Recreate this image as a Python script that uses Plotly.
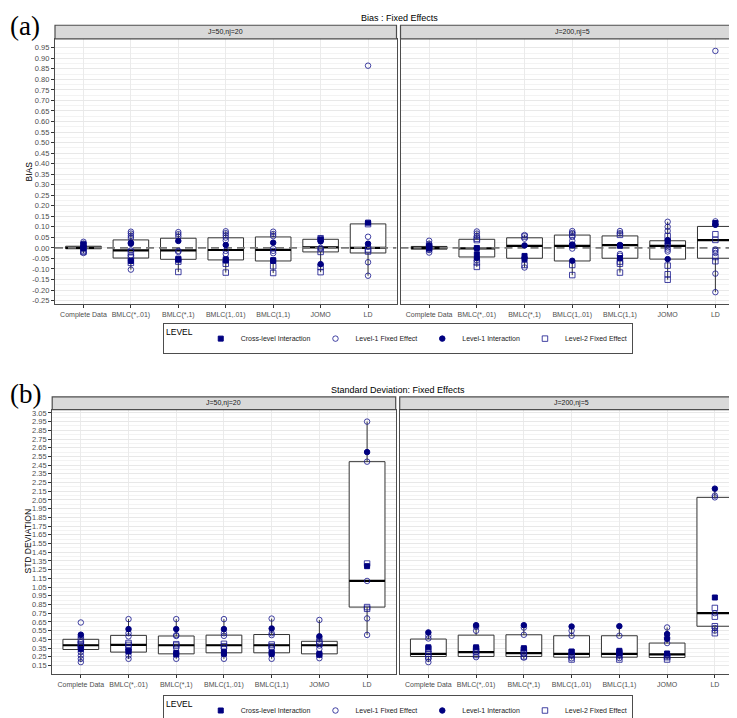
import plotly.graph_objects as go

# ---------------- data ----------------
CATEGORIES = ["Complete Data", "BMLC(*,.01)", "BMLC(*,1)", "BMLC(1,.01)", "BMLC(1,1)", "JOMO", "LD"]
LEVELS = ["Cross-level Interaction", "Level-1 Fixed Effect", "Level-1 Interaction", "Level-2 Fixed Effect"]
FACETS = ["J=50,nj=20", "J=200,nj=5"]

BIAS_TICKS = [round(-0.25 + 0.05 * i, 2) for i in range(25)]
SD_TICKS = [round(0.15 + 0.10 * i, 2) for i in range(30)]

# ---- Bias, J=50,nj=20 : box statistics (one per category)
BIAS_A_LOW = [-0.024, -0.103, -0.114, -0.117, -0.119, -0.115, -0.132]
BIAS_A_Q1 = [-0.004, -0.048, -0.054, -0.057, -0.062, -0.019, -0.024]
BIAS_A_MED = [0.000, -0.012, -0.012, -0.010, -0.009, 0.003, 0.000]
BIAS_A_Q3 = [0.008, 0.038, 0.046, 0.048, 0.052, 0.041, 0.114]
BIAS_A_HIGH = [0.029, 0.077, 0.075, 0.079, 0.077, 0.047, 0.122]
# points per level (one list per category)
BIAS_A_CLI = [[0.0, 0.017], [-0.062], [-0.051, -0.056], [-0.054, -0.06], [-0.058, -0.061], [0.04], [0.12]]
BIAS_A_L1FE = [[0.029, 0.021, -0.005, -0.024], [0.077, 0.068, 0.057, 0.047, -0.012, -0.035, -0.103],
               [0.075, 0.065, 0.054, -0.014, -0.019], [0.079, 0.07, 0.06, 0.049, 0.036, -0.014, -0.029],
               [0.077, 0.066, 0.056, -0.003, -0.014, -0.025], [0.044, 0.0, -0.005],
               [0.865, 0.053, 0.005, -0.068, -0.132]]
BIAS_A_L1I = [[0.008], [0.025, 0.02], [0.033], [0.014], [0.025], [0.031, -0.077], [0.02]]
BIAS_A_L2FE = [[0.012, -0.012, -0.019], [-0.019, -0.046, -0.071], [-0.065, -0.114], [-0.075, -0.117],
               [-0.087, -0.119], [0.046, -0.019, -0.091, -0.115], [0.113, -0.007, -0.017]]

# ---- Bias, J=200,nj=5
BIAS_B_LOW = [-0.022, -0.090, -0.093, -0.129, -0.117, -0.151, -0.210]
BIAS_B_Q1 = [-0.006, -0.043, -0.049, -0.062, -0.049, -0.053, -0.049]
BIAS_B_MED = [0.000, -0.002, 0.010, 0.010, 0.013, 0.010, 0.037]
BIAS_B_Q3 = [0.007, 0.041, 0.048, 0.061, 0.057, 0.034, 0.102]
BIAS_B_HIGH = [0.034, 0.078, 0.061, 0.080, 0.080, 0.124, 0.126]
BIAS_B_CLI = [[0.0, 0.004], [0.0, -0.03], [-0.038, -0.054], [0.012], [0.01, -0.048], [0.03], [0.118]]
BIAS_B_L1FE = [[0.034, 0.02, -0.01, -0.022], [0.078, 0.068, 0.056, -0.002, -0.058], [0.061, 0.044, -0.048, -0.093],
               [0.08, 0.071, 0.052, 0.034, 0.017, -0.003], [0.08, 0.07, -0.029, -0.037],
               [0.124, 0.1, 0.081, 0.02, 0.012, 0.002, -0.008, -0.017],
               [0.935, 0.126, 0.111, -0.007, -0.014, -0.024, -0.122, -0.21]]
BIAS_B_L1I = [[0.012], [-0.048], [0.012], [0.014, -0.061], [0.014], [0.037, -0.053], [0.11]]
BIAS_B_L2FE = [[0.008, -0.005], [0.044, 0.037, -0.069, -0.09], [0.054, -0.081], [0.063, -0.081, -0.129],
               [0.062, -0.065, -0.075, -0.117], [0.056, -0.084, -0.125, -0.151], [0.065, 0.038, -0.043, -0.063]]

# ---- Std deviation, J=50,nj=20
SD_A_LOW = [0.188, 0.226, 0.226, 0.226, 0.226, 0.233, 0.50]
SD_A_Q1 = [0.333, 0.303, 0.283, 0.295, 0.295, 0.283, 0.82]
SD_A_MED = [0.382, 0.386, 0.382, 0.382, 0.382, 0.382, 1.12]
SD_A_Q3 = [0.450, 0.495, 0.488, 0.498, 0.505, 0.427, 2.49]
SD_A_HIGH = [0.503, 0.682, 0.682, 0.682, 0.688, 0.672, 2.95]
SD_A_CLI = [[0.34], [0.31, 0.318], [0.295, 0.276], [0.303, 0.284], [0.299, 0.283], [0.283, 0.272], [1.29]]
SD_A_L1FE = [[0.643, 0.484, 0.417, 0.303, 0.264, 0.226, 0.188], [0.682, 0.52, 0.484, 0.264, 0.226],
             [0.682, 0.498, 0.488, 0.348, 0.226], [0.682, 0.52, 0.49, 0.348, 0.226],
             [0.688, 0.52, 0.498, 0.348, 0.226], [0.672, 0.46, 0.378, 0.34, 0.233], [2.95, 2.49, 1.12, 0.69, 0.50]]
SD_A_L1I = [[0.503], [0.567], [0.567], [0.567], [0.574], [0.484], [2.60]]
SD_A_L2FE = [[0.443, 0.394, 0.371], [0.408, 0.386, 0.355], [0.394, 0.378], [0.398, 0.371], [0.39, 0.368],
             [0.417, 0.398], [1.32, 0.82, 0.80]]

# ---- Std deviation, J=200,nj=5
SD_B_LOW = [0.188, 0.245, 0.226, 0.218, 0.218, 0.218, 0.52]
SD_B_Q1 = [0.253, 0.253, 0.253, 0.245, 0.245, 0.241, 0.60]
SD_B_MED = [0.283, 0.303, 0.291, 0.283, 0.283, 0.276, 0.75]
SD_B_Q3 = [0.453, 0.498, 0.502, 0.491, 0.491, 0.407, 2.08]
SD_B_HIGH = [0.529, 0.612, 0.612, 0.597, 0.601, 0.586, 2.18]
SD_B_CLI = [[0.358], [0.358], [0.348], [0.31], [0.318, 0.29], [0.287], [0.93]]
SD_B_L1FE = [[0.491, 0.46, 0.31, 0.226, 0.188], [0.593, 0.548, 0.3, 0.245], [0.585, 0.502, 0.28, 0.24],
             [0.548, 0.491, 0.27, 0.232], [0.491, 0.27, 0.235], [0.586, 0.471, 0.407, 0.27],
             [2.10, 2.08, 0.75, 0.58, 0.55]]
SD_B_L1I = [[0.529], [0.612], [0.612], [0.597], [0.601], [0.51, 0.455], [2.18]]
SD_B_L2FE = [[0.34, 0.283, 0.253], [0.34, 0.314, 0.27], [0.33, 0.30, 0.253], [0.30, 0.265, 0.218],
             [0.30, 0.265, 0.218], [0.258, 0.245, 0.218], [0.81, 0.71, 0.60, 0.52]]

# ---------------- styling ----------------
W, H = 737, 718
NAVY = "#000080"
OPEN = "rgba(20,20,140,0.80)"
FONT = "Liberation Sans, Arial, sans-serif"
TICKCOL = "#4d4d4d"
BORDER = "#4d4d4d"
BOX_W = 0.75

LEVEL_STYLE = {
    "Cross-level Interaction": dict(symbol="square", color=NAVY, size=5, rank=1),
    "Level-1 Fixed Effect": dict(symbol="circle-open", color=OPEN, size=5.5, rank=2),
    "Level-1 Interaction": dict(symbol="circle", color=NAVY, size=5.5, rank=3),
    "Level-2 Fixed Effect": dict(symbol="square-open", color=OPEN, size=5.5, rank=4),
}
DRAW_ORDER = ["Level-1 Fixed Effect", "Level-2 Fixed Effect", "Cross-level Interaction", "Level-1 Interaction"]


def px_x(p):
    return p / W


def px_y(p):
    return 1 - p / H


fig = go.Figure()

panels = [
    ("x", "y", (BIAS_A_LOW, BIAS_A_Q1, BIAS_A_MED, BIAS_A_Q3, BIAS_A_HIGH),
     {"Cross-level Interaction": BIAS_A_CLI, "Level-1 Fixed Effect": BIAS_A_L1FE,
      "Level-1 Interaction": BIAS_A_L1I, "Level-2 Fixed Effect": BIAS_A_L2FE}, "legend", True, True),
    ("x2", "y2", (BIAS_B_LOW, BIAS_B_Q1, BIAS_B_MED, BIAS_B_Q3, BIAS_B_HIGH),
     {"Cross-level Interaction": BIAS_B_CLI, "Level-1 Fixed Effect": BIAS_B_L1FE,
      "Level-1 Interaction": BIAS_B_L1I, "Level-2 Fixed Effect": BIAS_B_L2FE}, "legend", False, True),
    ("x3", "y3", (SD_A_LOW, SD_A_Q1, SD_A_MED, SD_A_Q3, SD_A_HIGH),
     {"Cross-level Interaction": SD_A_CLI, "Level-1 Fixed Effect": SD_A_L1FE,
      "Level-1 Interaction": SD_A_L1I, "Level-2 Fixed Effect": SD_A_L2FE}, "legend2", True, False),
    ("x4", "y4", (SD_B_LOW, SD_B_Q1, SD_B_MED, SD_B_Q3, SD_B_HIGH),
     {"Cross-level Interaction": SD_B_CLI, "Level-1 Fixed Effect": SD_B_L1FE,
      "Level-1 Interaction": SD_B_L1I, "Level-2 Fixed Effect": SD_B_L2FE}, "legend2", False, False),
]

positions = list(range(1, len(CATEGORIES) + 1))

for xa, ya, (lo, q1, med, q3, hi), pts, leg, showleg, hline in panels:
    fig.add_trace(go.Box(
        x=positions, lowerfence=lo, q1=q1, median=med, q3=q3, upperfence=hi,
        width=BOX_W, whiskerwidth=0, boxpoints=False,
        fillcolor="white", line=dict(color="#333333", width=1),
        xaxis=xa, yaxis=ya, showlegend=False, hoverinfo="skip"))
    mx, my = [], []
    for p, m in zip(positions, med):
        mx += [p - BOX_W / 2, p + BOX_W / 2, None]
        my += [m, m, None]
    fig.add_trace(go.Scatter(x=mx, y=my, mode="lines", line=dict(color="black", width=2.2),
                             xaxis=xa, yaxis=ya, showlegend=False, hoverinfo="skip"))
    if hline:
        fig.add_trace(go.Scatter(x=[0.4, len(CATEGORIES) + 0.6], y=[0, 0], mode="lines",
                                 line=dict(color="#7a7a7a", width=1.6, dash="8px,5px"),
                                 xaxis=xa, yaxis=ya, showlegend=False, hoverinfo="skip"))
    for lev in DRAW_ORDER:
        st = LEVEL_STYLE[lev]
        xs, ys = [], []
        for p, vals in zip(positions, pts[lev]):
            xs += [p] * len(vals)
            ys += vals
        fig.add_trace(go.Scatter(
            x=xs, y=ys, mode="markers", name=lev,
            marker=dict(symbol=st["symbol"], color=st["color"], size=st["size"],
                        line=dict(color=st["color"], width=1)),
            xaxis=xa, yaxis=ya, legend=leg, showlegend=showleg, legendrank=st["rank"],
            hoverinfo="skip"))

# ---------------- axes ----------------
DOM = {
    "x": (47, 388.5), "x2": (392.5, 736),
    "x3": (44.2, 387.7), "x4": (391.7, 735.5),
}
YDOM = {"y": (31, 297), "y2": (31, 297), "y3": (402.7, 668), "y4": (402.7, 668)}
YRANGE = {"y": [-0.267, 0.992], "y2": [-0.267, 0.992], "y3": [0.05, 3.088], "y4": [0.05, 3.088]}


def mids(t):
    return [(a + b) / 2 for a, b in zip(t[:-1], t[1:])]


layout = {}
for xa, ya in [("x", "y"), ("x2", "y2"), ("x3", "y3"), ("x4", "y4")]:
    xk = "xaxis" if xa == "x" else "xaxis" + xa[1:]
    yk = "yaxis" if ya == "y" else "yaxis" + ya[1:]
    x0, x1 = DOM[xa]
    y0, y1 = YDOM[ya]
    layout[xk] = dict(
        domain=[px_x(x0), px_x(x1)], anchor=ya, range=[0.4, len(CATEGORIES) + 0.6],
        tickmode="array", tickvals=positions, ticktext=CATEGORIES, tickangle=0,
        tickfont=dict(family=FONT, size=7, color=TICKCOL),
        ticks="outside", ticklen=3, tickcolor="#333333",
        showgrid=True, gridcolor="#ebebeb", gridwidth=1, zeroline=False,
        showline=True, mirror=True, linecolor=BORDER, linewidth=1.2, fixedrange=True)
    ticks = BIAS_TICKS if ya in ("y", "y2") else SD_TICKS
    left = ya in ("y", "y3")
    layout[yk] = dict(
        domain=[px_y(y1), px_y(y0)], anchor=xa, range=YRANGE[ya],
        tickmode="array", tickvals=ticks, ticktext=[f"{v:.2f}" for v in ticks],
        showticklabels=left, ticks="outside" if left else "", ticklen=3, tickcolor="#333333",
        tickfont=dict(family=FONT, size=7.5, color=TICKCOL),
        showgrid=True, gridcolor="#e8e8e8", gridwidth=1, zeroline=False,
        minor=dict(tickmode="array", tickvals=mids(ticks), showgrid=True, gridcolor="#f3f3f3", gridwidth=1, ticks=""),
        showline=True, mirror=True, linecolor=BORDER, linewidth=1.2, fixedrange=True)

shapes = []
annotations = []
for xa, top, facet in [("x", 17.3, FACETS[0]), ("x2", 17.3, FACETS[1]),
                       ("x3", 390, FACETS[0]), ("x4", 390, FACETS[1])]:
    x0, x1 = DOM[xa]
    bottom = 31 if xa in ("x", "x2") else 402.7
    shapes.append(dict(type="rect", xref="paper", yref="paper", x0=px_x(x0), x1=px_x(x1),
                       y0=px_y(bottom), y1=px_y(top), fillcolor="#d9d9d9",
                       line=dict(color=BORDER, width=1.2), layer="above"))
    annotations.append(dict(text=facet, xref="paper", yref="paper", x=px_x((x0 + x1) / 2),
                            y=px_y((top + bottom) / 2), showarrow=False, xanchor="center", yanchor="middle",
                            font=dict(family=FONT, size=7, color="#1a1a1a")))

annotations += [
    dict(text="Bias : Fixed Effects", xref="paper", yref="paper", x=px_x(391), y=px_y(10),
         showarrow=False, xanchor="center", yanchor="middle", font=dict(family=FONT, size=9, color="black")),
    dict(text="Standard Deviation: Fixed Effects", xref="paper", yref="paper", x=px_x(390), y=px_y(383),
         showarrow=False, xanchor="center", yanchor="middle", font=dict(family=FONT, size=9, color="black")),
    dict(text="BIAS", xref="paper", yref="paper", x=px_x(21), y=px_y(164), textangle=-90,
         showarrow=False, xanchor="center", yanchor="middle", font=dict(family=FONT, size=8.5, color="black")),
    dict(text="STD DEVIATION", xref="paper", yref="paper", x=px_x(20), y=px_y(535), textangle=-90,
         showarrow=False, xanchor="center", yanchor="middle", font=dict(family=FONT, size=8.5, color="black")),
    dict(text="(a)", xref="paper", yref="paper", x=0, y=px_y(1), showarrow=False,
         xanchor="left", yanchor="top", font=dict(family="Liberation Serif, Times New Roman, serif", size=27, color="black")),
    dict(text="(b)", xref="paper", yref="paper", x=0, y=px_y(370), showarrow=False,
         xanchor="left", yanchor="top", font=dict(family="Liberation Serif, Times New Roman, serif", size=27, color="black")),
]

legend_common = dict(orientation="h", xanchor="center", yanchor="top", bgcolor="white",
                     bordercolor=BORDER, borderwidth=1, itemwidth=30, traceorder="normal",
                     font=dict(family=FONT, size=7, color="#1a1a1a"),
                     title=dict(text="LEVEL", font=dict(family=FONT, size=8.5, color="black")))

fig.update_layout(
    width=W, height=H, margin=dict(l=0, r=0, t=0, b=0),
    paper_bgcolor="white", plot_bgcolor="white",
    shapes=shapes, annotations=annotations,
    legend=dict(x=px_x(390), y=px_y(316), **legend_common),
    legend2=dict(x=px_x(390), y=px_y(689), **legend_common),
    **layout,
)

fig.write_html("out.html")
